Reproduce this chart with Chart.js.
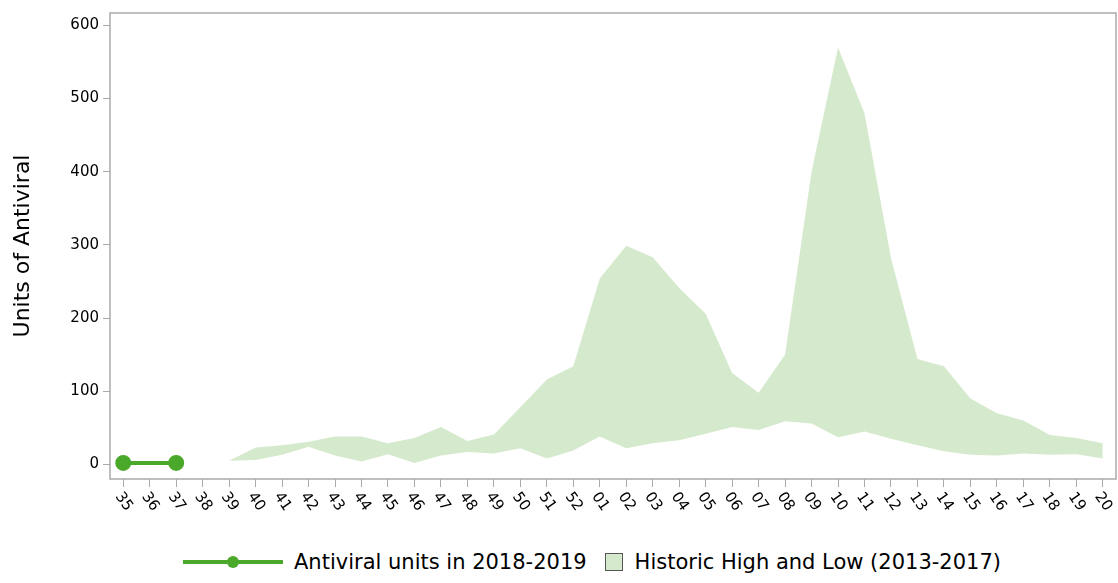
<!DOCTYPE html>
<html>
<head>
<meta charset="utf-8">
<script src="https://cdn.jsdelivr.net/npm/chart.js@4"></script>
<style>
  body { margin: 0; background: #fff; font-family: "DejaVu Sans", sans-serif; overflow: hidden; }
  #wrap { position: relative; width: 1118px; height: 583px; overflow: hidden; }
  #legend { position: absolute; left: 183px; top: 550px; font-size: 21px; color: #000; display: flex; align-items: center; white-space: nowrap; }
  .li { display: inline-flex; align-items: center; }
  .line { position: relative; width: 100px; height: 4px; background: #4aa82a; margin-right: 11px; }
  .line span { position: absolute; left: 44px; top: -4px; width: 12px; height: 12px; border-radius: 50%; background: #4aa82a; }
  .box { width: 16px; height: 16px; background: #d5eacc; border: 1px solid #555; margin: 0 12px 0 18px; }
</style>
</head>
<body>
<div id="wrap">
  <canvas id="chart" width="1126" height="540"></canvas>
  <div id="legend">
    <span class="li"><span class="line"><span></span></span>Antiviral units in 2018-2019</span>
    <span class="li"><span class="box"></span>Historic High and Low (2013-2017)</span>
  </div>
</div>
<script>
    // Semaines
    var weeks = ["35","36","37","38","39","40","41","42","43","44","45","46","47","48","49","50","51","52",
                 "01","02","03","04","05","06","07","08","09","10","11","12","13","14","15","16","17","18","19","20"];
    var antiviral = [2, 2, 2];
    var histLow = [null, null, null, null, 5, 6, 13, 24, 12, 4, 14, 2, 12, 17, 15, 22, 8, 19,
                   38, 22, 29, 33, 42, 51, 47, 59, 56, 37, 45, 35, 26, 18, 13, 12, 15, 13, 14, 8];
    var histHigh = [null, null, null, null, 5, 23, 26, 31, 38, 38, 29, 36, 51, 32, 41, 78, 116, 134,
                    254, 299, 283, 241, 206, 125, 98, 150, 400, 570, 480, 282, 144, 134, 90, 70, 60, 40, 36, 29];
    var yTicks = [0, 100, 200, 300, 400, 500, 600];

    // Cadre + étiquettes inclinées
    var framePlugin = {
        id: 'frame',
        afterDraw: function (chart) {
            var c = chart.ctx, a = chart.chartArea, x = chart.scales.x;
            c.save();
            c.strokeStyle = '#aaa';
            c.lineWidth = 1.5;
            c.strokeRect(a.left, a.top, a.right - a.left, a.bottom - a.top);
            c.fillStyle = '#000';
            c.font = '15px "DejaVu Sans"';
            c.textBaseline = 'middle';
            weeks.forEach(function (w, i) {
                var px = x.getPixelForTick(i);
                c.save();
                c.translate(px - 5, a.bottom + 15);
                c.rotate(55 * Math.PI / 180);
                c.fillText(w, 0, 0);
                c.restore();
            });
            c.restore();
        }
    };

    new Chart(document.getElementById('chart').getContext('2d'), {
        type: 'line',
        data: {
            labels: weeks,
            datasets: [
                { label: 'low', data: histLow, borderWidth: 0, pointRadius: 0, fill: false },
                { label: 'Historic High and Low (2013-2017)', data: histHigh, borderWidth: 0, pointRadius: 0,
                  fill: '-1', backgroundColor: '#d5eacc' },
                { label: 'Antiviral units in 2018-2019', data: antiviral, borderColor: '#4aa82a', backgroundColor: '#4aa82a',
                  borderWidth: 4, pointRadius: [6, 0, 6], fill: false }
            ]
        },
        options: {
            responsive: false,
            animation: false,
            layout: { padding: { top: 4, right: 0, bottom: 53, left: 10 } },
            plugins: { legend: { display: false }, tooltip: { enabled: false } },
            scales: {
                x: {
                    offset: true,
                    grid: { display: true, drawOnChartArea: false, tickLength: 8, color: '#aaa' },
                    border: { display: false },
                    ticks: { display: false }
                },
                y: {
                    min: -20, max: 617,
                    afterBuildTicks: function (s) { s.ticks = yTicks.map(function (v) { return { value: v }; }); },
                    afterFit: function (s) { s.width = 100; },
                    grid: { display: true, drawOnChartArea: false, tickLength: 7, color: '#aaa' },
                    border: { display: false },
                    ticks: { color: '#000', font: { family: 'DejaVu Sans', size: 15 }, padding: 4 },
                    title: { display: true, text: 'Units of Antiviral', color: '#000', font: { family: 'DejaVu Sans', size: 22 }, padding: { top: 0, bottom: 10 } }
                }
            }
        },
        plugins: [framePlugin]
    });
</script>
</body>
</html>
